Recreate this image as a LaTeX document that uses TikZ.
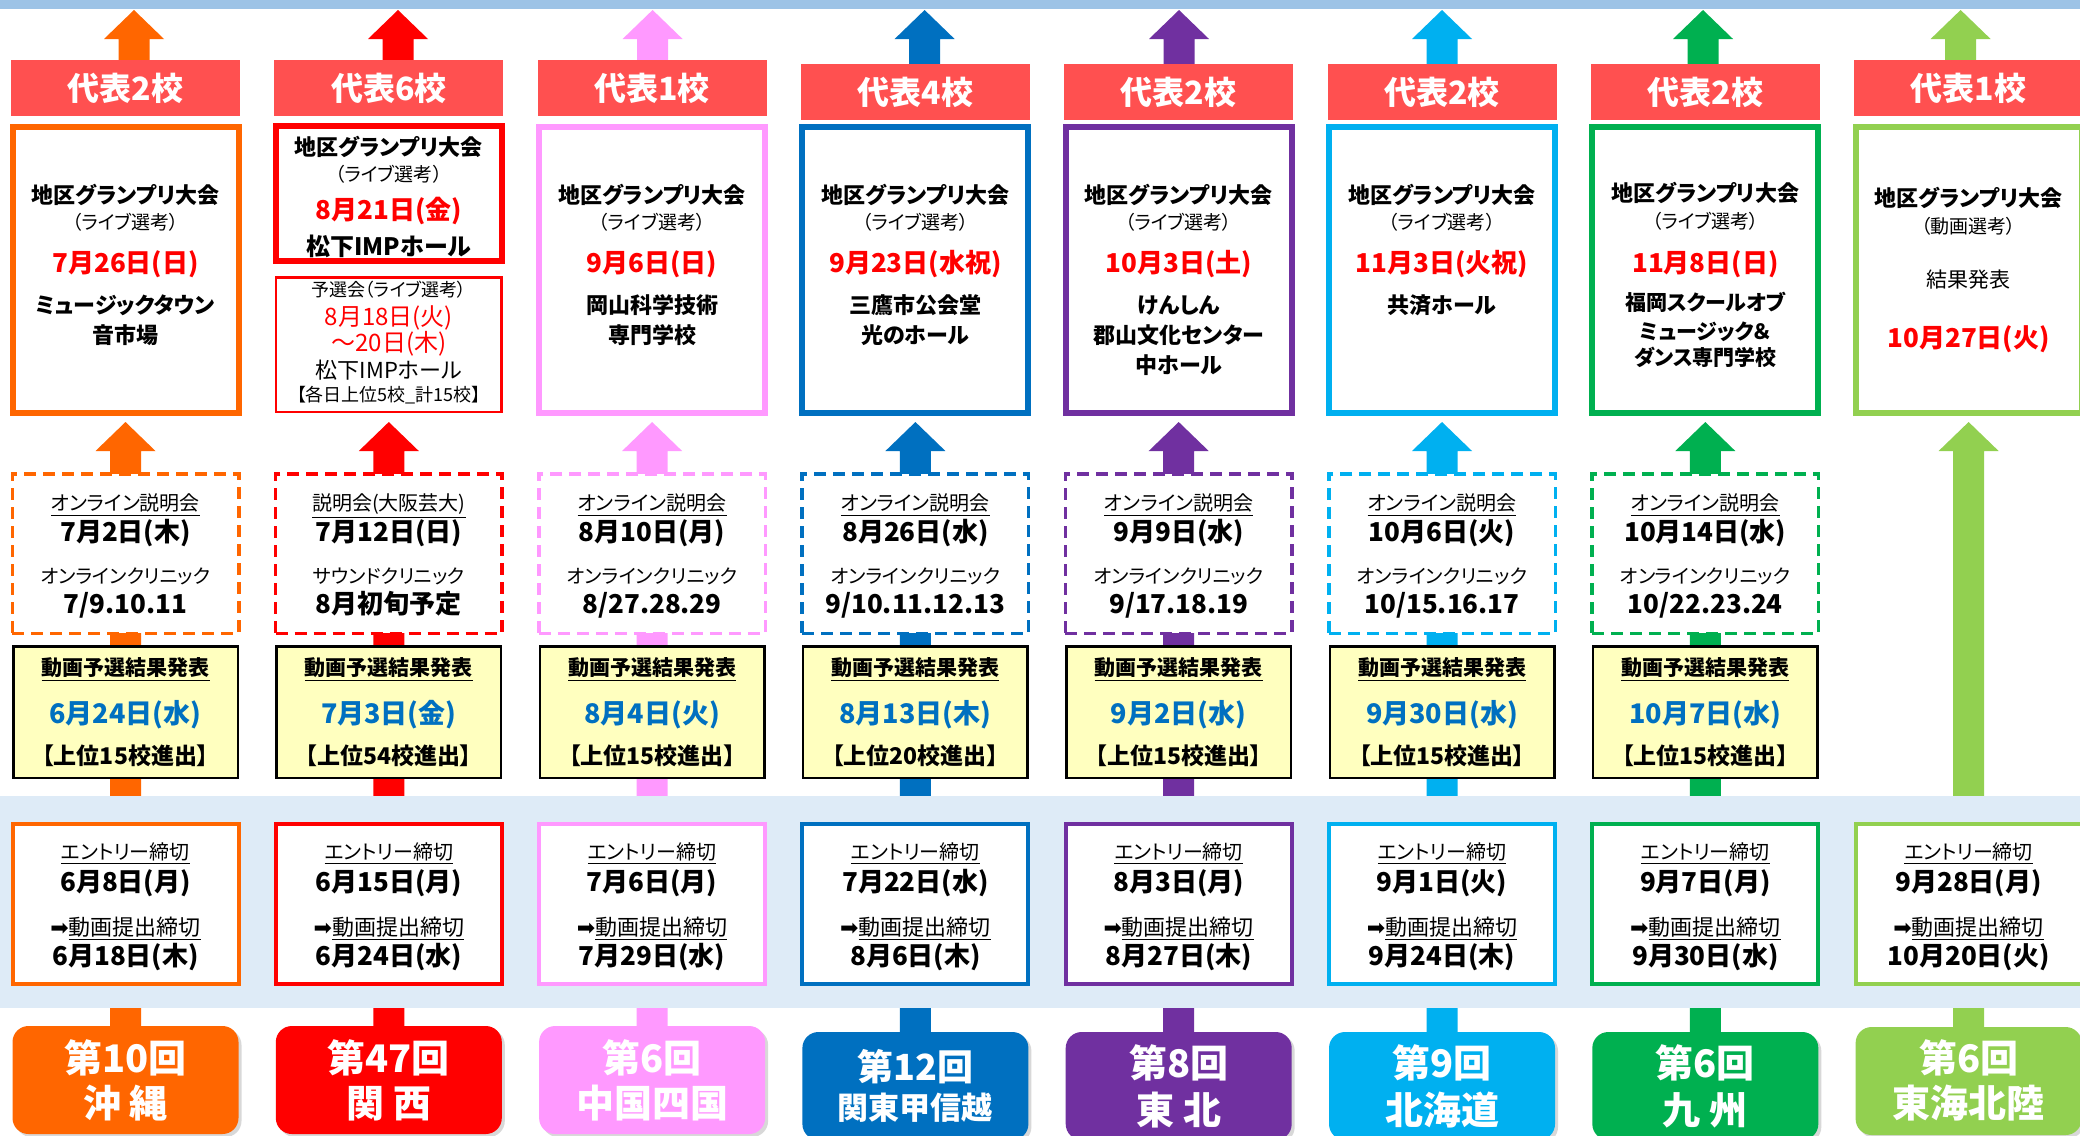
\documentclass[tikz,border=0pt]{standalone}
\usepackage{fontspec}
\setmainfont{Noto Sans CJK JP}[RawFeature=+palt]
\newfontfamily\djv{DejaVu Sans}
\usetikzlibrary{shadows}
\definecolor{cO}{HTML}{FF6600}
\definecolor{cR}{HTML}{FF0000}
\definecolor{cP}{HTML}{FF99FF}
\definecolor{cB}{HTML}{0070C0}
\definecolor{cV}{HTML}{7030A0}
\definecolor{cC}{HTML}{00B0F0}
\definecolor{cG}{HTML}{00B050}
\definecolor{cL}{HTML}{92D050}
\definecolor{bannerc}{HTML}{FF5050}
\definecolor{topbar}{HTML}{9DC3E6}
\definecolor{bandc}{HTML}{DEEBF7}
\definecolor{yel}{HTML}{FFFFBF}
\definecolor{dred}{HTML}{FF0000}
\definecolor{dblue}{HTML}{0070C0}
\newcommand\fsz[1]{\fontsize{#1pt}{#1pt}\selectfont}
\newcommand\Lbl[6]{\node[lab,font=\fsz{#4}] (#1) at (#2,{#3+0.74*#4}) {#5#6};}
\newcommand\BlockUp[4]{\fill[#4] ({#1-15.5},#3) -- ({#1-15.5},{#2+29}) -- ({#1-30},{#2+29}) -- (#1,#2) -- ({#1+30},{#2+29}) -- ({#1+15.5},{#2+29}) -- ({#1+15.5},#3) -- cycle;}
% dashed + yellow boxes: #1 idx, #2 cx, #3 header, #4 date, #5 clinic, #6 clinic dates, #7 result date, #8 count
\newcommand\DashYel[8]{%
  \Lbl{d#1a}{#2}{503}{10}{}{\underline{#3}}
  \Lbl{d#1b}{#2}{532}{13}{\bfseries}{#4}
  \Lbl{d#1c}{#2}{576}{9.7}{}{#5}
  \Lbl{d#1d}{#2}{604}{13}{\bfseries}{#6}
  \Lbl{y#1a}{#2}{668}{10.5}{\bfseries}{\underline{動画予選結果発表}}
  \Lbl{y#1b}{#2}{713}{13.5}{\bfseries\color{dblue}}{#7}
  \Lbl{y#1c}{#2}{756}{11.5}{\bfseries}{【上位#8{}校進出】}}
\newcommand\Entry[4]{%
  \Lbl{e#1a}{#2}{852}{10}{}{\underline{エントリー締切}}
  \Lbl{e#1b}{#2}{882}{13}{\bfseries}{#3}
  \Lbl{e#1c}{#2}{927}{11}{}{{\djv\fsz{11}➡}\underline{動画提出締切}}
  \Lbl{e#1d}{#2}{956}{13}{\bfseries}{#4}}
\begin{document}
\begin{tikzpicture}[x=0.5pt,y=-0.5pt,
  lab/.style={inner sep=0pt,anchor=base,align=center},
  bannerst/.style={fill=bannerc,minimum width=114.5pt,minimum height=28pt,inner sep=0pt,text=white,font=\fsz{16}\bfseries},
  mainbox/.style={draw=#1,line width=3pt,fill=white,minimum width=113pt,minimum height=143pt,inner sep=0pt},
  dashbox/.style={draw=#1,line width=1.75pt,dash pattern=on 6pt off 3.5pt,fill=white,minimum width=113.25pt,minimum height=79.75pt,inner sep=0pt},
  yelbox/.style={draw=black,line width=1.25pt,fill=yel,minimum width=112.25pt,minimum height=65.75pt,inner sep=0pt},
  entbox/.style={draw=#1,line width=2pt,fill=white,minimum width=113pt,minimum height=80pt,inner sep=0pt},
  botbox/.style={fill=#1,rounded corners=8pt,minimum width=113pt,minimum height=54pt,inner sep=0pt,drop shadow={shadow xshift=1.5pt,shadow yshift=-1.5pt,opacity=0.3}},
]
\useasboundingbox (0,0) rectangle (2080,1135);
\fill[white] (0,0) rectangle (2080,1135);
\fill[topbar] (0,0) rectangle (2080,9);
% arrows
\foreach \cx/\ax/\cc in {125.5/134/cO,388.8/398/cR,652.1/652.6/cP,915.4/924.6/cB,1178.7/1179/cV,1442/1442/cC,1705.3/1703/cG,1968.6/1960.6/cL}{
  \BlockUp{\ax}{10}{70}{\cc}
  \BlockUp{\cx}{422}{1040}{\cc}
}
% band
\fill[bandc] (0,796) rectangle (2080,1008);
% banners
\foreach \i/\cx/\by/\nn in {1/125.5/88/2,2/388.8/88/6,3/652.1/88/1,4/915.4/92/4,5/1178.7/92/2,6/1442/92/2,7/1705.3/92/2,8/1968.6/88/1}{
  \node[bannerst] (h\i) at (\cx,\by) {代表\nn{}校};
}
% main boxes
\foreach \i/\cx/\cc in {1/125.5/cO,3/652.1/cP,4/915.4/cB,5/1178.7/cV,6/1442/cC,7/1705.3/cG,8/1968.6/cL}{
  \node[mainbox=\cc] (m\i) at (\cx,270) {};
}
\node[draw=cR,line width=3pt,fill=white,minimum width=113pt,minimum height=67.5pt,inner sep=0pt] (m2) at (388.8,193.5) {};
\node[draw=cR,line width=1.25pt,fill=white,minimum width=112.75pt,minimum height=67.25pt,inner sep=0pt] (p2) at (388.8,344.5) {};
% dashed, yellow
\foreach \i/\cx/\cc in {1/125.5/cO,2/388.8/cR,3/652.1/cP,4/915.4/cB,5/1178.7/cV,6/1442/cC,7/1705.3/cG}{
  \node[dashbox=\cc] (dd\i) at (\cx,553.5) {};
  \node[yelbox] (yy\i) at (\cx,712) {};
}
% entry boxes and bottom boxes
\foreach \i/\cx/\cc/\bt in {1/125.5/cO/1080,2/388.8/cR/1080,3/652.1/cP/1080,4/915.4/cB/1086,5/1178.7/cV/1086,6/1442/cC/1086,7/1705.3/cG/1086,8/1968.6/cL/1081}{
  \node[entbox=\cc] (ee\i) at (\cx,904) {};
  \node[botbox=\cc] (rr\i) at (\cx,\bt) {};
}
% ---- main box texts
\Lbl{m1a}{125.5}{195}{11}{\bfseries}{地区グランプリ大会}
\Lbl{m1b}{125.5}{222}{9.5}{}{（ライブ選考）}
\Lbl{m1c}{125.5}{263}{13}{\bfseries\color{dred}}{7月26日(日)}
\Lbl{m1d}{125.5}{305}{11}{\bfseries}{ミュージックタウン}
\Lbl{m1e}{125.5}{335}{11}{\bfseries}{音市場}
\Lbl{m2a}{388.8}{147}{11}{\bfseries}{地区グランプリ大会}
\Lbl{m2b}{388.8}{174}{9.5}{}{（ライブ選考）}
\Lbl{m2c}{388.8}{210}{13}{\bfseries\color{dred}}{8月21日(金)}
\Lbl{m2d}{388.8}{247}{12}{\bfseries}{松下IMPホール}
\Lbl{p2a}{388.8}{290}{9}{}{予選会（ライブ選考）}
\Lbl{p2b}{388.8}{317}{12}{\color{dred}}{8月18日(火)}
\Lbl{p2c}{388.8}{343}{12}{\color{dred}}{～20日(木)}
\Lbl{p2d}{388.8}{370}{11}{}{松下IMPホール}
\Lbl{p2e}{388.8}{395}{9}{}{【各日上位5校\_計15校】}
\Lbl{m3a}{652.1}{195}{11}{\bfseries}{地区グランプリ大会}
\Lbl{m3b}{652.1}{222}{9.5}{}{（ライブ選考）}
\Lbl{m3c}{652.1}{263}{13}{\bfseries\color{dred}}{9月6日(日)}
\Lbl{m3d}{652.1}{305}{11}{\bfseries}{岡山科学技術}
\Lbl{m3e}{652.1}{335}{11}{\bfseries}{専門学校}
\Lbl{m4a}{915.4}{195}{11}{\bfseries}{地区グランプリ大会}
\Lbl{m4b}{915.4}{222}{9.5}{}{（ライブ選考）}
\Lbl{m4c}{915.4}{263}{13}{\bfseries\color{dred}}{9月23日(水祝)}
\Lbl{m4d}{915.4}{305}{11}{\bfseries}{三鷹市公会堂}
\Lbl{m4e}{915.4}{335}{11}{\bfseries}{光のホール}
\Lbl{m5a}{1178.7}{195}{11}{\bfseries}{地区グランプリ大会}
\Lbl{m5b}{1178.7}{222}{9.5}{}{（ライブ選考）}
\Lbl{m5c}{1178.7}{263}{13}{\bfseries\color{dred}}{10月3日(土)}
\Lbl{m5d}{1178.7}{305}{11}{\bfseries}{けんしん}
\Lbl{m5e}{1178.7}{335}{11}{\bfseries}{郡山文化センター}
\Lbl{m5f}{1178.7}{365}{11}{\bfseries}{中ホール}
\Lbl{m6a}{1442}{195}{11}{\bfseries}{地区グランプリ大会}
\Lbl{m6b}{1442}{222}{9.5}{}{（ライブ選考）}
\Lbl{m6c}{1442}{263}{13}{\bfseries\color{dred}}{11月3日(火祝)}
\Lbl{m6d}{1442}{305}{11}{\bfseries}{共済ホール}
\Lbl{m7a}{1705.3}{193}{11}{\bfseries}{地区グランプリ大会}
\Lbl{m7b}{1705.3}{221}{9.5}{}{（ライブ選考）}
\Lbl{m7c}{1705.3}{263}{13}{\bfseries\color{dred}}{11月8日(日)}
\Lbl{m7d}{1705.3}{303}{10.5}{\bfseries}{福岡スクールオブ}
\Lbl{m7e}{1705.3}{332}{10.5}{\bfseries}{ミュージック＆}
\Lbl{m7f}{1705.3}{358}{10.5}{\bfseries}{ダンス専門学校}
\Lbl{m8a}{1968.6}{198}{11}{\bfseries}{地区グランプリ大会}
\Lbl{m8b}{1968.6}{226}{9.5}{}{（動画選考）}
\Lbl{m8c}{1968.6}{280}{10.5}{}{結果発表}
\Lbl{m8d}{1968.6}{338}{13}{\bfseries\color{dred}}{10月27日(火)}
% ---- dashed + yellow
\DashYel{1}{125.5}{オンライン説明会}{7月2日(木)}{オンラインクリニック}{7/9.10.11}{6月24日(水)}{15}
\DashYel{2}{388.8}{説明会(大阪芸大)}{7月12日(日)}{サウンドクリニック}{8月初旬予定}{7月3日(金)}{54}
\DashYel{3}{652.1}{オンライン説明会}{8月10日(月)}{オンラインクリニック}{8/27.28.29}{8月4日(火)}{15}
\DashYel{4}{915.4}{オンライン説明会}{8月26日(水)}{オンラインクリニック}{9/10.11.12.13}{8月13日(木)}{20}
\DashYel{5}{1178.7}{オンライン説明会}{9月9日(水)}{オンラインクリニック}{9/17.18.19}{9月2日(水)}{15}
\DashYel{6}{1442}{オンライン説明会}{10月6日(火)}{オンラインクリニック}{10/15.16.17}{9月30日(水)}{15}
\DashYel{7}{1705.3}{オンライン説明会}{10月14日(水)}{オンラインクリニック}{10/22.23.24}{10月7日(水)}{15}
% ---- entry
\Entry{1}{125.5}{6月8日(月)}{6月18日(木)}
\Entry{2}{388.8}{6月15日(月)}{6月24日(水)}
\Entry{3}{652.1}{7月6日(月)}{7月29日(水)}
\Entry{4}{915.4}{7月22日(水)}{8月6日(木)}
\Entry{5}{1178.7}{8月3日(月)}{8月27日(木)}
\Entry{6}{1442}{9月1日(火)}{9月24日(木)}
\Entry{7}{1705.3}{9月7日(月)}{9月30日(水)}
\Entry{8}{1968.6}{9月28日(月)}{10月20日(火)}
% ---- bottom
\Lbl{r1a}{125.5}{1058}{19}{\bfseries\color{white}}{第10回}
\Lbl{r1b}{125.5}{1103}{19}{\bfseries\color{white}}{沖 縄}
\Lbl{r2a}{388.8}{1058}{19}{\bfseries\color{white}}{第47回}
\Lbl{r2b}{388.8}{1103}{19}{\bfseries\color{white}}{関 西}
\Lbl{r3a}{652.1}{1058}{19}{\bfseries\color{white}}{第6回}
\Lbl{r3b}{652.1}{1103}{19}{\bfseries\color{white}}{中国四国}
\Lbl{r4a}{915.4}{1067}{18}{\bfseries\color{white}}{第12回}
\Lbl{r4b}{915.4}{1108}{15.5}{\bfseries\color{white}}{関東甲信越}
\Lbl{r5a}{1178.7}{1063}{19}{\bfseries\color{white}}{第8回}
\Lbl{r5b}{1178.7}{1110}{19}{\bfseries\color{white}}{東 北}
\Lbl{r6a}{1442}{1063}{19}{\bfseries\color{white}}{第9回}
\Lbl{r6b}{1442}{1110}{19}{\bfseries\color{white}}{北海道}
\Lbl{r7a}{1705.3}{1063}{19}{\bfseries\color{white}}{第6回}
\Lbl{r7b}{1705.3}{1110}{19}{\bfseries\color{white}}{九 州}
\Lbl{r8a}{1968.6}{1058}{19}{\bfseries\color{white}}{第6回}
\Lbl{r8b}{1968.6}{1103}{19}{\bfseries\color{white}}{東海北陸}
\end{tikzpicture}
\end{document}
